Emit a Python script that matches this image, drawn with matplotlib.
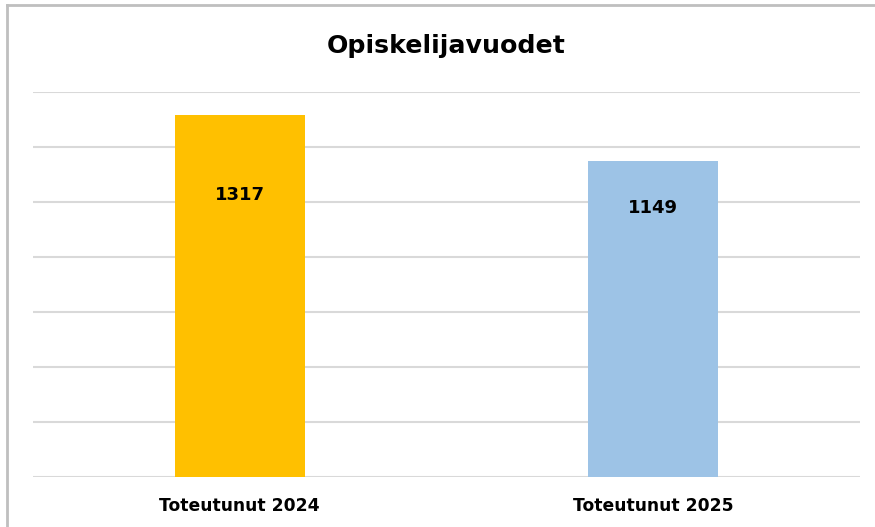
#!/usr/bin/env python3
"""Opiskelijavuodet: toteutunut 2024 vs 2025."""
import matplotlib.pyplot as plt
from matplotlib.lines import Line2D

categories = ["Toteutunut 2024", "Toteutunut 2025"]
values = [1317, 1149]
colors = ["#FFC000", "#9DC3E6"]
# where the value labels sit inside the bars (data units)
label_y = [1026, 979]

plt.rcParams["font.family"] = ["DejaVu Sans"]

fig = plt.figure(figsize=(8.75, 5.27), dpi=100)
ax = fig.add_axes([0.0377, 0.0949, 0.9451, 0.7305])

x = range(len(categories))
ax.bar(x, values, width=0.315, color=colors, zorder=3)
for xi, v, ly in zip(x, values, label_y):
    ax.text(xi, ly, f"{v}", ha="center", va="center", fontsize=13,
            fontweight="bold", color="black", zorder=4)

ax.set_xlim(-0.5, 1.5)
ax.set_ylim(0, 1400)
ax.set_yticks(range(0, 1401, 200))
ax.yaxis.grid(True, color="#d9d9d9", linewidth=1.5, zorder=0)
ax.tick_params(axis="y", left=False, labelleft=False)
ax.tick_params(axis="x", bottom=False, pad=11)
ax.set_xticks(list(x))
ax.set_xticklabels(categories, fontsize=12.3, fontweight="bold")
for s in ax.spines.values():
    s.set_visible(False)

fig.text(0.51, 0.913, "Opiskelijavuodet", ha="center", va="center",
         fontsize=18.2, fontweight="bold")

# chart frame (top and left edges visible)
fig.add_artist(Line2D([0.0075, 1.0], [0.9905, 0.9905], color="#bfbfbf",
                      linewidth=2, transform=fig.transFigure))
fig.add_artist(Line2D([0.0075, 0.0075], [0.0, 0.9905], color="#bfbfbf",
                      linewidth=2, transform=fig.transFigure))

fig.savefig("out.png", dpi=100)
